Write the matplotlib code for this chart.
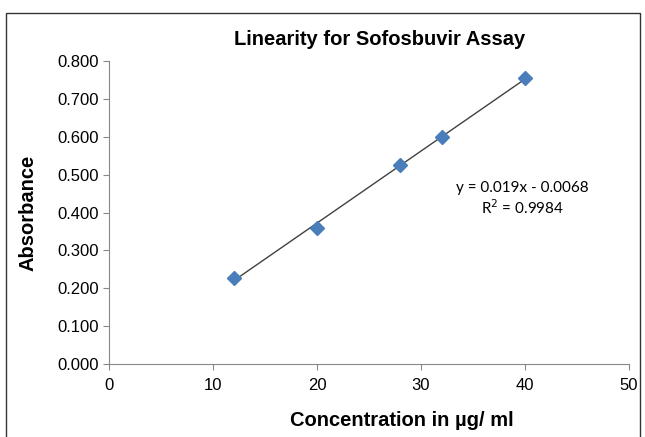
import matplotlib.pyplot as plt
from matplotlib.patches import Rectangle
import numpy as np

conc = [12, 20, 28, 32, 40]
absorb = [0.228, 0.360, 0.527, 0.600, 0.755]
yticks = [0.0, 0.1, 0.2, 0.3, 0.4, 0.5, 0.6, 0.7, 0.8]
xticks = [0, 10, 20, 30, 40, 50]

plt.rcParams['font.family'] = ['Liberation Sans', 'DejaVu Sans']

fig = plt.figure(figsize=(6.45, 4.37), dpi=100)
ax = fig.add_axes([0.169, 0.167, 0.806, 0.693])

x = np.asarray(conc)
slope, intercept = np.polyfit(x, absorb, 1)
ax.plot(x, slope * x + intercept, color='#404040', lw=1.0, zorder=2)
ax.plot(conc, absorb, 'D', color='#4A7EBB', ms=7, zorder=3)

ax.set_xlim(0, 50)
ax.set_ylim(0, 0.8)
ax.set_xticks(xticks)
ax.set_yticks(yticks)
ax.set_yticklabels([f'{v:.3f}' for v in yticks])
ax.tick_params(labelsize=12, color='#888888', length=4, width=0.8)
ax.tick_params(axis='x', pad=6)
for s in ['top', 'right']:
    ax.spines[s].set_visible(False)
for s in ['left', 'bottom']:
    ax.spines[s].set_color('#888888')

ax.set_title('Linearity for Sofosbuvir Assay', fontsize=14.5, fontweight='bold', x=0.521, pad=12)
ax.set_xlabel('Concentration in \u00b5g/ ml', fontsize=14.5, fontweight='bold')
ax.xaxis.set_label_coords(0.563, -0.155)
ax.set_ylabel('Absorbance', fontsize=14.5, fontweight='bold', labelpad=14)

ax.text(0.795, 0.545, 'y = 0.019x - 0.0068\nR$^2$ = 0.9984', transform=ax.transAxes,
        ha='center', va='center', fontsize=11, family='Lato', linespacing=1.2)

fig.patches.append(Rectangle((0.0093, -0.05), 0.983, 1.02, transform=fig.transFigure,
                             fill=False, edgecolor='#333333', lw=1.0))

plt.savefig('out.png', dpi=100)
